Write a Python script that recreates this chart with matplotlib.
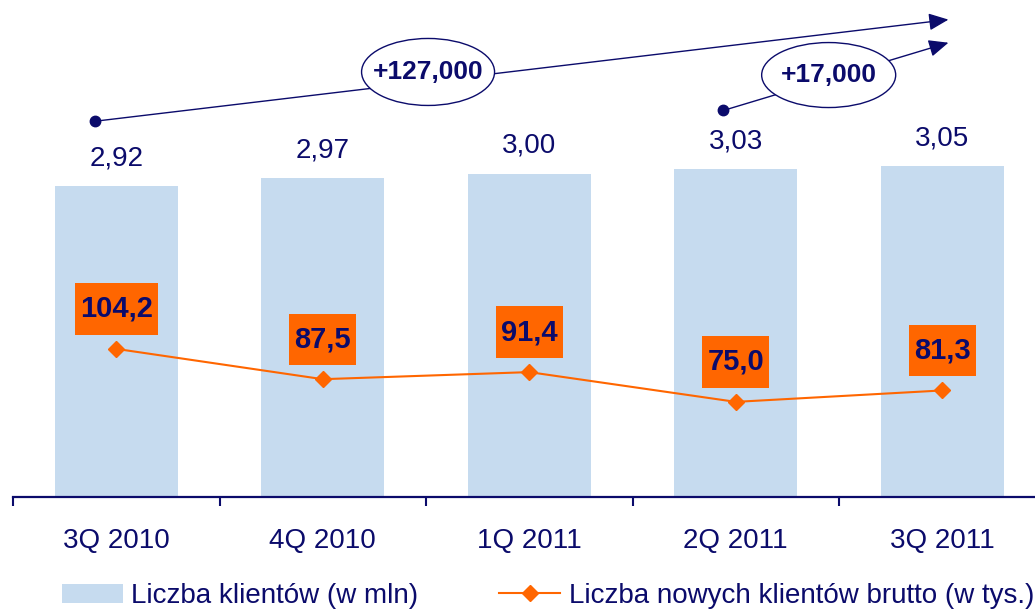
"""
Liczba klientow i nowych klientow brutto, 3Q 2010 - 3Q 2011.
"""

import matplotlib
matplotlib.use("Agg")
import matplotlib.pyplot as plt
from matplotlib.patches import Ellipse, Patch
from matplotlib.lines import Line2D
from matplotlib.path import Path

quarters = ["3Q 2010", "4Q 2010", "1Q 2011", "2Q 2011", "3Q 2011"]
clients_mln = [2.92, 2.97, 3.00, 3.03, 3.05]
new_clients_k = [104.2, 87.5, 91.4, 75.0, 81.3]
bar_labels = ["2,92", "2,97", "3,00", "3,03", "3,05"]
line_labels = ["104,2", "87,5", "91,4", "75,0", "81,3"]

legend_bars = "Liczba klientów (w mln)"
legend_line = "Liczba nowych klientów brutto (w tys.)"

navy = "#0B0B6B"
orange = "#FF6600"
bar_color = "#C6DBEF"

plt.rcParams["font.family"] = ["Liberation Sans", "DejaVu Sans"]


def _label_box(x0, y0, width, height, mutation_size):
    # orange box: narrow on the sides, tall above and below
    px = 0.17 * mutation_size
    py = 0.40 * mutation_size
    x0, y0 = x0 - px, y0 - py
    x1, y1 = x0 + width + 2 * px, y0 + height + 2 * py
    return Path([(x0, y0), (x1, y0), (x1, y1), (x0, y1), (x0, y0)],
                closed=True)


fig = plt.figure(figsize=(10.35, 6.12), dpi=100)
ax = fig.add_axes([13 / 1035, 115 / 612, 5 * 206.5 / 1035, 497 / 612])
xs = list(range(len(quarters)))

ax.bar(xs, clients_mln, width=0.596, color=bar_color, zorder=1)
ax.set_xlim(-0.5, len(quarters) - 0.5)
ax.set_ylim(0.9, 0.9 + 497 / 154)

for x, v, lab in zip(xs, clients_mln, bar_labels):
    ax.annotate(lab, (x, v), xytext=(0, 15), textcoords="offset points",
                ha="center", va="baseline", fontsize=20, color=navy)

# axis styling
for side in ("left", "right", "top"):
    ax.spines[side].set_visible(False)
ax.spines["bottom"].set_color(navy)
ax.spines["bottom"].set_linewidth(1.6)
ax.set_yticks([])
ax.set_xticks(xs)
ax.set_xticklabels(quarters, fontsize=20, color=navy)
ax.set_xticks([x - 0.5 for x in xs], minor=True)
ax.tick_params(axis="x", which="major", length=0, pad=22)
ax.tick_params(axis="x", which="minor", length=6.5, width=1.5, color=navy,
               direction="out")

# growth arrows
ax.plot([-0.103], [3.34], "o", color=navy, ms=7.5, zorder=4, clip_on=False)
ax.annotate("", xy=(4.03, 4.0), xytext=(-0.103, 3.34),
            arrowprops=dict(arrowstyle="-|>,head_length=0.8,head_width=0.35",
                            color=navy, lw=1, mutation_scale=15,
                            shrinkA=0, shrinkB=0),
            annotation_clip=False, zorder=3)
ax.plot([2.94], [3.41], "o", color=navy, ms=7.5, zorder=4, clip_on=False)
ax.annotate("", xy=(4.03, 3.85), xytext=(2.94, 3.41),
            arrowprops=dict(arrowstyle="-|>,head_length=0.8,head_width=0.35",
                            color=navy, lw=1, mutation_scale=15,
                            shrinkA=0, shrinkB=0),
            annotation_clip=False, zorder=3)

ax.add_patch(Ellipse((1.51, 3.66), 0.644, 0.435, fc="white", ec=navy,
                     lw=1, zorder=5, clip_on=False))
ax.text(1.51, 3.66, "+127,000", ha="center", va="center", fontsize=19,
        fontweight="bold", color=navy, zorder=6)
ax.add_patch(Ellipse((3.45, 3.64), 0.649, 0.422, fc="white", ec=navy,
                     lw=1, zorder=5, clip_on=False))
ax.text(3.45, 3.64, "+17,000", ha="center", va="center", fontsize=19,
        fontweight="bold", color=navy, zorder=6)

# new clients line on a second scale
ax2 = ax.twinx()
ax2.plot(xs, new_clients_k, color=orange, lw=1.5, marker="D", ms=8,
         mec=orange, mfc=orange, zorder=3)
ax2.set_ylim((538 - 497) / 1.815, 538 / 1.815)
ax2.set_yticks([])
for side in ("left", "right", "top", "bottom"):
    ax2.spines[side].set_visible(False)

for x, v, lab in zip(xs, new_clients_k, line_labels):
    ax2.annotate(lab, (x, v), xytext=(0, 23), textcoords="offset points",
                 ha="center", va="baseline", fontsize=21, fontweight="bold",
                 color=navy, zorder=5,
                 bbox=dict(boxstyle=_label_box, fc=orange, ec="none"))

handles = [
    Patch(facecolor=bar_color, edgecolor="none", label=legend_bars),
    Line2D([], [], color=orange, lw=1.5, marker="D", ms=8, label=legend_line),
]
fig.legend(handles=handles, loc="center left",
           bbox_to_anchor=(62 / 1035, 1 - 596 / 612), ncol=2, frameon=False,
           fontsize=20, labelcolor=navy, handlelength=2.2, handleheight=0.7,
           handletextpad=0.3, columnspacing=2.9, borderpad=0,
           borderaxespad=0)

fig.savefig("out.png", dpi=100)
